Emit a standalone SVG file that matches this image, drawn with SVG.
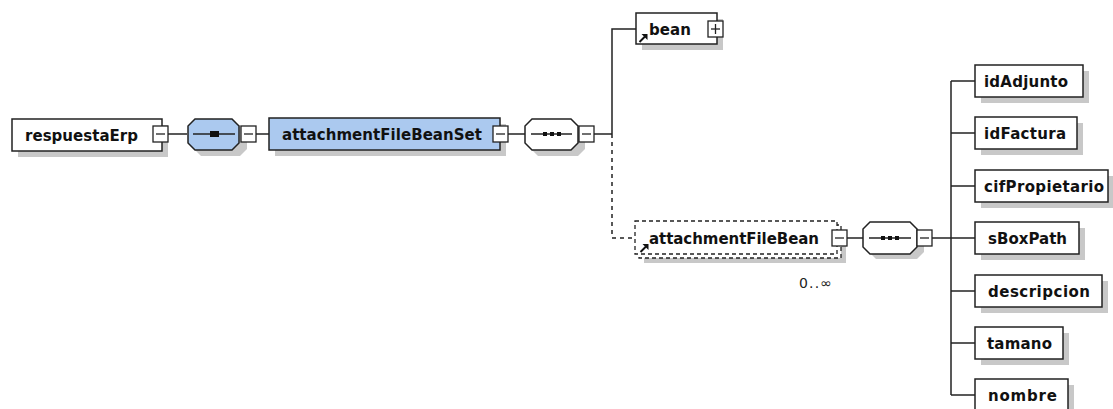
<svg xmlns="http://www.w3.org/2000/svg" width="1113" height="409" viewBox="0 0 1113 409">
<style>
.sh{fill:#c8c8c8;stroke:none}
.box{fill:#fff;stroke:#222;stroke-width:1.5}
.blue{fill:#abc9ef;stroke:#222;stroke-width:1.5}
.dbox{fill:#fff;stroke:#222;stroke-width:1.3;stroke-dasharray:4 3}
.ln{stroke:#222;stroke-width:1.5;fill:none}
.dl{stroke:#222;stroke-width:1.5;fill:none;stroke-dasharray:4 4}
.t{font-family:"DejaVu Sans",sans-serif;font-weight:bold;font-size:15px;fill:#111}
.m{font-family:"DejaVu Sans",sans-serif;font-size:14px;fill:#222}
</style>
<defs>
<g id="minus"><rect x="0" y="0" width="15" height="16" fill="#fff" stroke="#222" stroke-width="1.3"/><line x1="3" y1="8" x2="12" y2="8" stroke="#222" stroke-width="1.3"/></g>
<g id="plus"><rect x="0" y="0" width="15" height="16" fill="#fff" stroke="#222" stroke-width="1.3"/><line x1="3" y1="8" x2="12" y2="8" stroke="#222" stroke-width="1.3"/><line x1="7.5" y1="3" x2="7.5" y2="13" stroke="#222" stroke-width="1.3"/></g>
<g id="ref"><line x1="0.5" y1="8" x2="6" y2="2.5" stroke="#111" stroke-width="2"/><polygon points="2.5,0 8.5,0 8.5,6" fill="#111"/></g>
</defs>
<rect width="1113" height="409" fill="#fff"/>

<g id="connectors">
<line class="ln" x1="167" y1="134" x2="187" y2="134"/>
<line class="ln" x1="256" y1="134" x2="269" y2="134"/>
<line class="ln" x1="508" y1="134" x2="525" y2="134"/>
<line class="ln" x1="594" y1="134" x2="612" y2="134"/>
<polyline class="ln" points="612,134 612,29 636,29"/>
<polyline class="dl" points="612,134 612,238 635,238"/>
<line class="ln" x1="847" y1="238" x2="863" y2="238"/>
<line class="ln" x1="932" y1="238" x2="951" y2="238"/>
<line class="ln" x1="951" y1="81" x2="951" y2="395"/>
<line class="ln" x1="951" y1="81" x2="975" y2="81"/>
<line class="ln" x1="951" y1="133" x2="975" y2="133"/>
<line class="ln" x1="951" y1="186" x2="975" y2="186"/>
<line class="ln" x1="951" y1="238" x2="975" y2="238"/>
<line class="ln" x1="951" y1="291" x2="975" y2="291"/>
<line class="ln" x1="951" y1="343" x2="975" y2="343"/>
<line class="ln" x1="951" y1="395" x2="975" y2="395"/>
</g>

<g id="respuestaErp">
<rect class="sh" x="18" y="125" width="150" height="32"/>
<rect class="box" x="12" y="119" width="150" height="32"/>
<text class="t" x="25" y="141" textLength="113">respuestaErp</text>
<use href="#minus" x="153" y="126"/>
</g>

<g id="seq1">
<polygon class="sh" points="201,125 240,125 247,132 247,149 240,156 201,156 194,149 194,132"/>
<polygon class="blue" points="195,119 232,119 239,126 239,143 232,150 195,150 188,143 188,126"/>
<line class="ln" x1="193" y1="134" x2="235" y2="134"/>
<rect x="210" y="131" width="9" height="6" fill="#111"/>
<use href="#minus" x="241" y="126"/>
</g>

<g id="attachmentFileBeanSet">
<rect class="sh" x="275" y="124" width="231" height="32"/>
<rect class="blue" x="269" y="118" width="231" height="32"/>
<text class="t" x="282" y="140" textLength="200">attachmentFileBeanSet</text>
<use href="#minus" x="493" y="126"/>
</g>

<g id="seq2">
<polygon class="sh" points="538,125 578,125 585,132 585,149 578,156 538,156 531,149 531,132"/>
<polygon class="box" points="532,119 571,119 578,126 578,143 571,150 532,150 525,143 525,126"/>
<line class="ln" x1="531" y1="134" x2="572" y2="134"/>
<rect x="543" y="132" width="4" height="4" fill="#111"/>
<rect x="550" y="132" width="4" height="4" fill="#111"/>
<rect x="557" y="132" width="4" height="4" fill="#111"/>
<use href="#minus" x="579" y="126"/>
</g>

<g id="bean">
<rect class="sh" x="642" y="19" width="81" height="31"/>
<rect class="box" x="636" y="13" width="81" height="31"/>
<text class="t" x="649" y="35" textLength="42">bean</text>
<use href="#ref" x="639" y="34"/>
<use href="#plus" x="708" y="21"/>
</g>

<g id="attachmentFileBean">
<rect class="sh" x="644" y="230" width="202" height="33"/>
<rect class="dbox" x="639" y="225" width="202" height="33"/>
<rect class="dbox" x="635" y="221" width="202" height="33"/>
<text class="t" x="649" y="244" textLength="170">attachmentFileBean</text>
<use href="#ref" x="640" y="244"/>
<use href="#minus" x="832" y="230"/>
<text class="m" x="799" y="288" textLength="33">0..∞</text>
</g>

<g id="seq3">
<polygon class="sh" points="876,228 917,228 924,235 924,252 917,259 876,259 869,252 869,235"/>
<polygon class="box" points="870,222 910,222 917,229 917,247 910,254 870,254 863,247 863,229"/>
<line class="ln" x1="869" y1="238" x2="911" y2="238"/>
<rect x="881" y="236" width="4" height="4" fill="#111"/>
<rect x="888" y="236" width="4" height="4" fill="#111"/>
<rect x="895" y="236" width="4" height="4" fill="#111"/>
<use href="#minus" x="917" y="230"/>
</g>

<g id="idAdjunto">
<rect class="sh" x="981" y="71" width="108" height="32"/>
<rect class="box" x="975" y="65" width="108" height="32"/>
<text class="t" x="984" y="87" textLength="84">idAdjunto</text>
</g>
<g id="idFactura">
<rect class="sh" x="981" y="123" width="102" height="32"/>
<rect class="box" x="975" y="117" width="102" height="32"/>
<text class="t" x="984" y="139" textLength="82">idFactura</text>
</g>
<g id="cifPropietario">
<rect class="sh" x="981" y="176" width="133" height="32"/>
<rect class="box" x="975" y="170" width="133" height="32"/>
<text class="t" x="984" y="192" textLength="120">cifPropietario</text>
</g>
<g id="sBoxPath">
<rect class="sh" x="981" y="228" width="104" height="32"/>
<rect class="box" x="975" y="222" width="104" height="32"/>
<text class="t" x="988" y="244" textLength="79">sBoxPath</text>
</g>
<g id="descripcion">
<rect class="sh" x="981" y="281" width="127" height="32"/>
<rect class="box" x="975" y="275" width="127" height="32"/>
<text class="t" x="988" y="297" textLength="102">descripcion</text>
</g>
<g id="tamano">
<rect class="sh" x="981" y="333" width="88" height="32"/>
<rect class="box" x="975" y="327" width="88" height="32"/>
<text class="t" x="987" y="349" textLength="65">tamano</text>
</g>
<g id="nombre">
<rect class="sh" x="981" y="385" width="93" height="32"/>
<rect class="box" x="975" y="379" width="93" height="32"/>
<text class="t" x="988" y="401" textLength="69">nombre</text>
</g>
</svg>
